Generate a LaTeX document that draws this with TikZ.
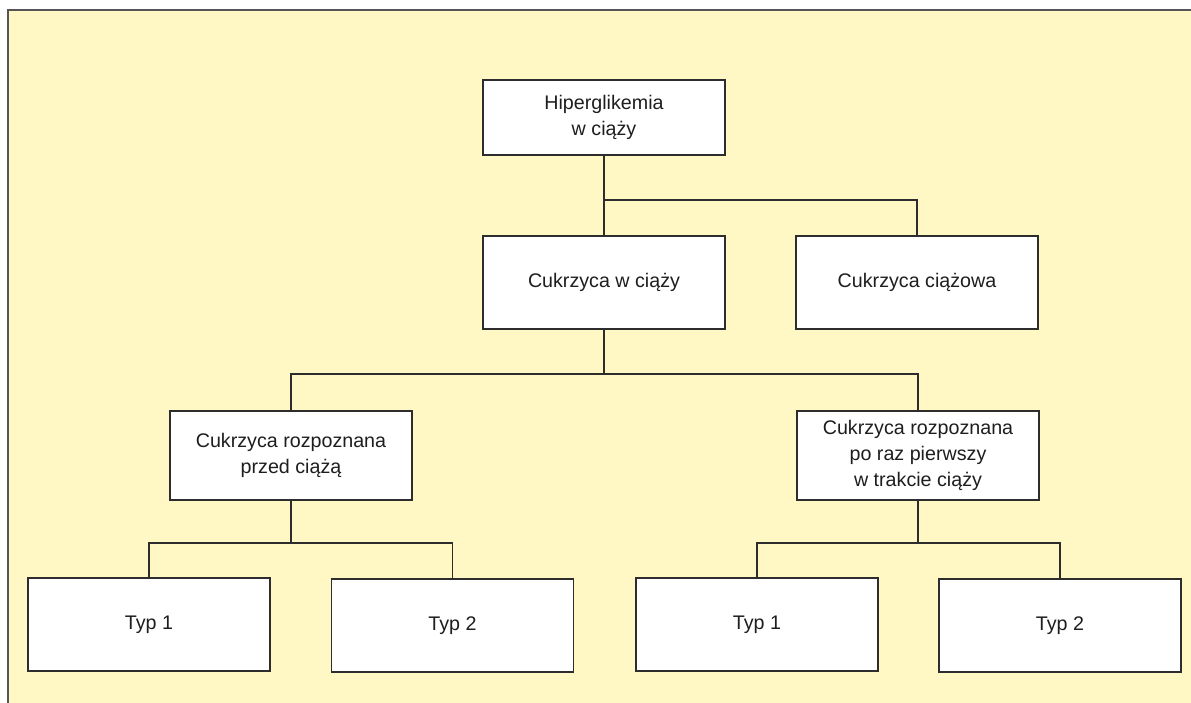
\documentclass[tikz,border=0pt]{standalone}
\usepackage{fontspec}
\setmainfont{Liberation Sans}
\usetikzlibrary{positioning, calc}

\definecolor{bgyellow}{RGB}{255,248,196}
\definecolor{frameline}{RGB}{85,85,85}
\definecolor{boxline}{RGB}{45,45,45}
\definecolor{txtgrey}{RGB}{30,30,30}

\begin{document}
\begin{tikzpicture}[
    x=0.2mm, y=-0.2mm,
    font=\fontsize{11.2}{15}\selectfont,
    box/.style={rectangle, draw=boxline, line width=0.6pt, fill=white, text=txtgrey,
                align=center, minimum width=48.4mm, minimum height=18.6mm, inner sep=0pt},
    link/.style={draw=boxline, line width=0.6pt}
]

\useasboundingbox (0,0) rectangle (1191,703);

% Background panel
\fill[bgyellow] (8,10) rectangle (1191,703);
\draw[frameline, line width=0.9pt] (8,703) -- (8,10) -- (1191,10);

% Level 0
\node[box, minimum height=15mm] (hip) at (604,117.5) {Hiperglikemia\\w ciąży};

% Level 1
\node[box] (cwc) at (604,282.5) {Cukrzyca w ciąży};
\node[box] (cc) at (917,282.5) {Cukrzyca ciążowa};

% Level 2
\node[box, minimum height=17.8mm] (prz) at (291,455.5) {Cukrzyca rozpoznana\\przed ciążą};
\node[box, minimum height=17.8mm] (po) at (918,455.5) {Cukrzyca rozpoznana\\po raz pierwszy\\w trakcie ciąży};

% Level 3
\node[box] (t1a) at (149,624.5) {Typ 1};
\node[box] (t2a) at (452.5,625.5) {Typ 2};
\node[box] (t1b) at (757,624.5) {Typ 1};
\node[box] (t2b) at (1060,625.5) {Typ 2};

% Bus levels
\coordinate (bus1) at (0,200);
\coordinate (bus2) at (0,374);
\coordinate (bus3) at (0,543);

% Connectors
\draw[link] (hip.south) -- (cwc.north);
\draw[link] (hip.south |- bus1) -| (cc.north);

\draw[link] (cwc.south) -- (cwc.south |- bus2);
\draw[link] (prz.north) |- (cwc.south |- bus2) -| (po.north);

\draw[link] (prz.south) -- (prz.south |- bus3);
\draw[link] (t1a.north) |- (prz.south |- bus3) -| (t2a.north);

\draw[link] (po.south) -- (po.south |- bus3);
\draw[link] (t1b.north) |- (po.south |- bus3) -| (t2b.north);

\end{tikzpicture}
\end{document}
